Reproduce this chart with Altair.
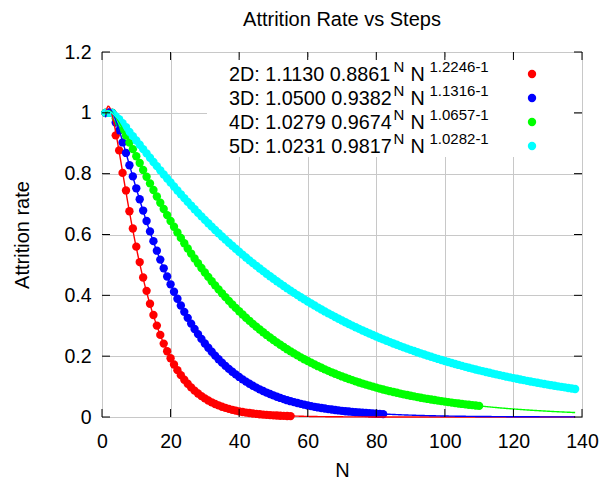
import altair as alt
import pandas as pd

# ---------------- data ----------------
series_names = ["2D", "3D", "4D", "5D"]
colors = ["#ff0000", "#0000ff", "#00ff00", "#00ffff"]

fit_a = ["1.1130", "1.0500", "1.0279", "1.0231"]
fit_b = ["0.8861", "0.9382", "0.9674", "0.9817"]
fit_c = ["1.2246", "1.1316", "1.0657", "1.0282"]

x_ticks = [0, 20, 40, 60, 80, 100, 120, 140]
y_ticks = [0, 0.2, 0.4, 0.6, 0.8, 1.0, 1.2]

rate_2d = [
    1, 1, 1, 0.9259, 0.8765, 0.8025, 0.7449, 0.6763, 0.6199, 0.5601,
    0.5093, 0.4586, 0.4147, 0.3723, 0.3354, 0.3005, 0.2699, 0.2413, 0.2162, 0.1931,
    0.1727, 0.1540, 0.1376, 0.1225, 0.1093, 0.0973, 0.0867, 0.0772, 0.0687, 0.0611,
    0.0543, 0.0483, 0.0429, 0.0381, 0.0338, 0.0300, 0.0266, 0.0236, 0.0210, 0.0186,
    0.0165, 0.0146, 0.0130, 0.0115, 0.0102, 0.0090, 0.0080, 0.0071, 0.0063, 0.0055,
    0.0049, 0.0043, 0.0038, 0.0034, 0.0030,
]
rate_3d = [
    1, 1, 1, 0.9680, 0.9424, 0.9027, 0.8682, 0.8277, 0.7910, 0.7518,
    0.7157, 0.6787, 0.6444, 0.6102, 0.5782, 0.5468, 0.5174, 0.4888, 0.4621, 0.4362,
    0.4119, 0.3886, 0.3666, 0.3457, 0.3259, 0.3071, 0.2894, 0.2726, 0.2568, 0.2418,
    0.2277, 0.2144, 0.2018, 0.1899, 0.1787, 0.1682, 0.1582, 0.1488, 0.1400, 0.1317,
    0.1238, 0.1164, 0.1095, 0.1029, 0.0967, 0.0909, 0.0855, 0.0803, 0.0755, 0.0710,
    0.0667, 0.0627, 0.0589, 0.0553, 0.0520, 0.0488, 0.0459, 0.0431, 0.0405, 0.0380,
    0.0357, 0.0335, 0.0315, 0.0296, 0.0278, 0.0261, 0.0245, 0.0230, 0.0216, 0.0203,
    0.0190, 0.0179, 0.0168, 0.0158, 0.0148, 0.0139, 0.0130, 0.0122, 0.0115, 0.0108,
    0.0101, 0.0095,
]
rate_4d = [
    1, 1, 1, 0.9825, 0.9675, 0.9457, 0.9257, 0.9025, 0.8806, 0.8573,
    0.8349, 0.8123, 0.7900, 0.7680, 0.7463, 0.7250, 0.7042, 0.6838, 0.6638, 0.6444,
    0.6254, 0.6068, 0.5888, 0.5712, 0.5540, 0.5373, 0.5211, 0.5053, 0.4900, 0.4751,
    0.4606, 0.4465, 0.4328, 0.4195, 0.4066, 0.3941, 0.3819, 0.3701, 0.3587, 0.3475,
    0.3368, 0.3263, 0.3162, 0.3063, 0.2968, 0.2875, 0.2785, 0.2698, 0.2614, 0.2532,
    0.2453, 0.2376, 0.2301, 0.2229, 0.2159, 0.2091, 0.2025, 0.1961, 0.1899, 0.1840,
    0.1782, 0.1725, 0.1671, 0.1618, 0.1567, 0.1517, 0.1469, 0.1423, 0.1378, 0.1334,
    0.1292, 0.1251, 0.1211, 0.1173, 0.1135, 0.1099, 0.1064, 0.1031, 0.0998, 0.0966,
    0.0935, 0.0906, 0.0877, 0.0849, 0.0822, 0.0796, 0.0770, 0.0746, 0.0722, 0.0699,
    0.0677, 0.0655, 0.0634, 0.0614, 0.0594, 0.0575, 0.0557, 0.0539, 0.0522, 0.0505,
    0.0489, 0.0474, 0.0458, 0.0444, 0.0430, 0.0416, 0.0403, 0.0390, 0.0377, 0.0365,
]
rate_5d = [
    1, 1, 1, 0.9890, 0.9793, 0.9659, 0.9532, 0.9375, 0.9234, 0.9092,
    0.8950, 0.8807, 0.8666, 0.8525, 0.8385, 0.8247, 0.8110, 0.7974, 0.7840, 0.7708,
    0.7577, 0.7448, 0.7321, 0.7196, 0.7072, 0.6951, 0.6831, 0.6712, 0.6596, 0.6482,
    0.6369, 0.6258, 0.6149, 0.6041, 0.5936, 0.5832, 0.5729, 0.5629, 0.5530, 0.5433,
    0.5337, 0.5243, 0.5150, 0.5059, 0.4970, 0.4882, 0.4796, 0.4711, 0.4627, 0.4545,
    0.4464, 0.4385, 0.4307, 0.4230, 0.4155, 0.4081, 0.4008, 0.3937, 0.3867, 0.3798,
    0.3730, 0.3664, 0.3598, 0.3534, 0.3471, 0.3409, 0.3348, 0.3288, 0.3229, 0.3171,
    0.3114, 0.3059, 0.3004, 0.2950, 0.2897, 0.2845, 0.2794, 0.2744, 0.2695, 0.2646,
    0.2599, 0.2552, 0.2506, 0.2461, 0.2417, 0.2374, 0.2331, 0.2289, 0.2248, 0.2207,
    0.2168, 0.2129, 0.2090, 0.2053, 0.2016, 0.1980, 0.1944, 0.1909, 0.1875, 0.1841,
    0.1808, 0.1775, 0.1743, 0.1712, 0.1681, 0.1650, 0.1621, 0.1591, 0.1563, 0.1534,
    0.1507, 0.1480, 0.1453, 0.1427, 0.1401, 0.1376, 0.1351, 0.1326, 0.1302, 0.1279,
    0.1256, 0.1233, 0.1211, 0.1189, 0.1167, 0.1146, 0.1126, 0.1105, 0.1085, 0.1066,
    0.1046, 0.1027, 0.1009, 0.0991, 0.0973, 0.0955, 0.0938, 0.0921,
]
all_rates = [rate_2d, rate_3d, rate_4d, rate_5d]

# ---------------- layout ----------------
FONT = "Liberation Sans"
W, H = 480, 365
PAD = {"left": 102, "top": 52, "right": 31, "bottom": 66}
MSIZE = 70

rows = []
for name, rates in zip(series_names, all_rates):
    for i, v in enumerate(rates):
        rows.append({"N": i + 1, "rate": v, "series": name})
points_df = pd.DataFrame(rows)

x_axis = alt.Axis(
    values=x_ticks, title="N", grid=True, gridColor="#c8c8c8", gridWidth=1,
    domain=False, ticks=False, tickSize=0, labelPadding=15, labelFlush=False,
    labelOverlap=False, labelFont=FONT, labelFontSize=19.5, labelColor="black",
    titleFont=FONT, titleFontSize=20, titleFontWeight="normal", titleColor="black",
    titleY=53, titleBaseline="middle",
)
y_axis = alt.Axis(
    values=y_ticks, format="~g", title="Attrition rate", grid=True,
    gridColor="#c8c8c8", gridWidth=1, domain=False, ticks=False, tickSize=0,
    labelPadding=11, labelFlush=False, labelOverlap=False, labelFont=FONT,
    labelFontSize=19.5, labelColor="black", titleFont=FONT, titleFontSize=20,
    titleFontWeight="normal", titleColor="black", titleAngle=270,
    titleX=-80, titleY=H / 2, titleBaseline="middle", titleAlign="center",
)
x_scale = alt.Scale(domain=[0, 140], nice=False, zero=False)
y_scale = alt.Scale(domain=[0, 1.2], nice=False, zero=False)
color_scale = alt.Scale(domain=series_names, range=colors)


def X(field):
    return alt.X(field, type="quantitative", scale=x_scale, axis=x_axis)


def Y(field):
    return alt.Y(field, type="quantitative", scale=y_scale, axis=y_axis)


dummy = pd.DataFrame({"d": [0]})

# white (opaque) key box
key_box = alt.Chart(dummy).mark_rect(fill="white", stroke=None).encode(
    x=alt.value(105), x2=alt.value(472), y=alt.value(5), y2=alt.value(105)
)

points = alt.Chart(points_df).mark_point(
    filled=True, shape="circle", size=MSIZE, opacity=1, strokeWidth=0
).encode(
    x=X("N"), y=Y("rate"),
    color=alt.Color("series:N", scale=color_scale, legend=None),
    order=alt.Order("series:N"),
)

fit_exprs = {
    "f" + name: f"{a}*pow({b}, datum.N)*pow(datum.N, {c}-1)"
    for name, a, b, c in zip(series_names, fit_a, fit_b, fit_c)
}
fits = (
    alt.Chart(alt.sequence(1, 138.01, 0.25, as_="N"))
    .transform_calculate(**fit_exprs)
    .transform_fold(list(fit_exprs.keys()), as_=["key", "rate"])
    .transform_calculate(series="substring(datum.key, 1)")
    .mark_line(strokeWidth=1.4)
    .encode(
        x=X("N"), y=Y("rate"),
        color=alt.Color("series:N", scale=color_scale, legend=None),
    )
)

xt_df = pd.DataFrame({"N": x_ticks})
yt_df = pd.DataFrame({"rate": y_ticks})
TL = 8
tick_layers = [
    alt.Chart(xt_df).mark_rule(color="black", strokeWidth=1).encode(
        x=X("N"), y=alt.value(H), y2=alt.value(H - TL)),
    alt.Chart(xt_df).mark_rule(color="black", strokeWidth=1).encode(
        x=X("N"), y=alt.value(0), y2=alt.value(TL)),
    alt.Chart(yt_df).mark_rule(color="black", strokeWidth=1).encode(
        y=Y("rate"), x=alt.value(0), x2=alt.value(TL)),
    alt.Chart(yt_df).mark_rule(color="black", strokeWidth=1).encode(
        y=Y("rate"), x=alt.value(W - TL), x2=alt.value(W)),
]

# key entries (text with superscripts)
key_layers = []
for i, (name, a, b, c) in enumerate(zip(series_names, fit_a, fit_b, fit_c)):
    yc = 22 + 24 * i
    base = alt.Chart(dummy)
    key_layers.append(base.mark_text(
        text=f"{name}: {a} {b}", font=FONT, fontSize=19.8, align="left",
        baseline="alphabetic", color="black").encode(
        x=alt.value(127), y=alt.value(yc + 7)))
    key_layers.append(base.mark_text(
        text="N", font=FONT, fontSize=15, align="left",
        baseline="alphabetic", color="black").encode(
        x=alt.value(291.5), y=alt.value(yc - 2.5)))
    key_layers.append(base.mark_text(
        text="N", font=FONT, fontSize=19.8, align="left",
        baseline="alphabetic", color="black").encode(
        x=alt.value(308.5), y=alt.value(yc + 7)))
    key_layers.append(base.mark_text(
        text=f"{c}-1", font=FONT, fontSize=15, align="left",
        baseline="alphabetic", color="black").encode(
        x=alt.value(327.5), y=alt.value(yc - 2.5)))
    key_layers.append(base.mark_point(
        filled=True, shape="circle", size=MSIZE, opacity=1, strokeWidth=0,
        color=colors[i]).encode(x=alt.value(430), y=alt.value(yc)))

title = alt.Chart(dummy).mark_text(
    text="Attrition Rate vs Steps", font=FONT, fontSize=20, align="center",
    baseline="middle", color="black").encode(x=alt.value(W / 2), y=alt.value(-32))

chart = alt.layer(
    key_box, points, fits, *tick_layers, *key_layers, title
).properties(
    width=W, height=H,
    autosize=alt.AutoSizeParams(type="none"),
    padding=PAD,
    background="white",
).configure_view(stroke="black", strokeWidth=1)

chart.save("out.html", embed_options={"renderer": "svg", "actions": False})
